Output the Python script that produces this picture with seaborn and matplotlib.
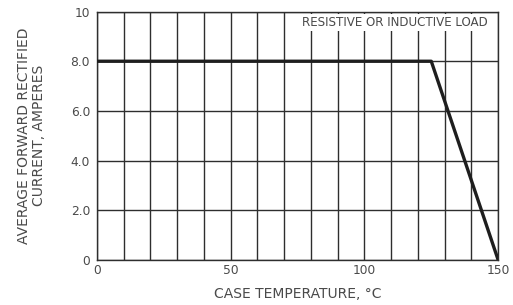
import numpy as np
import pandas as pd
import seaborn as sns
import matplotlib.pyplot as plt
from matplotlib.ticker import MultipleLocator

sns.set_theme(style="white")
plt.rcParams['font.family'] = ['DejaVu Sans']

# derating curve
temp_c = [0, 125, 150]
current_a = [8.0, 8.0, 0.0]

x_ticks = [0, 50, 100, 150]
x_labels = ['0', '50', '100', '150']
y_ticks = [0, 2, 4, 6, 8, 10]
y_labels = ['0', '2.0', '4.0', '6.0', '8.0', '10']

df = pd.DataFrame({'temp': temp_c, 'current': current_a})
text_col = '#4a4a4a'
grid_col = '#2e2e2e'

fig, ax = plt.subplots(figsize=(5.13, 3.05), dpi=100)
fig.subplots_adjust(left=0.189, right=0.971, top=0.962, bottom=0.148)

sns.lineplot(data=df, x='temp', y='current', ax=ax, color='#1e1e1e',
             linewidth=2.4, zorder=3)

ax.set_xlim(0, 150)
ax.set_ylim(0, 10)
ax.xaxis.set_minor_locator(MultipleLocator(10))
ax.yaxis.set_minor_locator(MultipleLocator(2))
ax.grid(which='both', color=grid_col, linewidth=1.0)
ax.set_axisbelow(True)
for s in ax.spines.values():
    s.set_color(grid_col)
    s.set_linewidth(1.0)

ax.set_xticks(x_ticks)
ax.set_xticklabels(x_labels)
ax.set_yticks(y_ticks)
ax.set_yticklabels(y_labels)
ax.tick_params(which='both', length=0, labelsize=8.8, colors=text_col)
ax.tick_params(axis='y', pad=5)
ax.tick_params(axis='x', pad=3)

ax.set_xlabel('CASE TEMPERATURE, °C', fontsize=10, color=text_col, labelpad=7)
ax.set_ylabel('AVERAGE FORWARD RECTIFIED\nCURRENT, AMPERES', fontsize=10,
              color=text_col, labelpad=18, linespacing=1.05)

ax.text(146.3, 9.56, 'RESISTIVE OR INDUCTIVE LOAD', ha='right', va='center',
        fontsize=8.6, color=text_col, zorder=2,
        bbox=dict(facecolor='white', edgecolor='none', pad=1.5))

plt.savefig('out.png', dpi=100)
plt.close()
